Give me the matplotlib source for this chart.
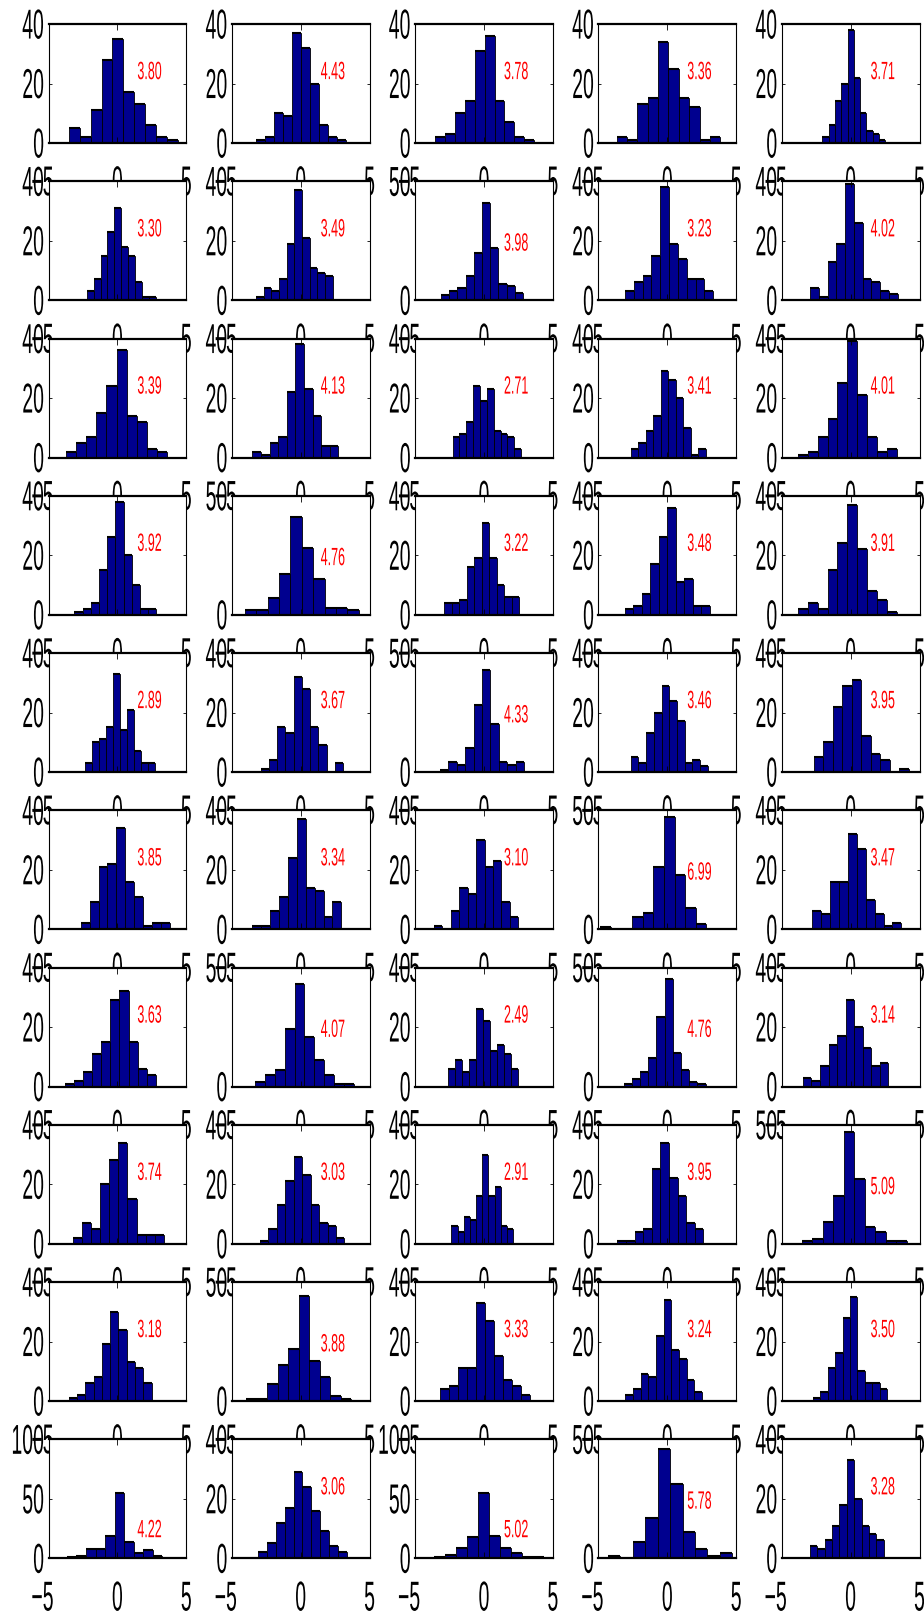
import numpy as np
import matplotlib
matplotlib.use('Agg')
import matplotlib.pyplot as plt
from matplotlib import patheffects
from matplotlib.transforms import Affine2D, ScaledTranslation

plt.rcParams['font.family'] = ['Liberation Sans', 'DejaVu Sans']

# 10 x 5 grid of histograms (10 bins each), read row by row
counts = [
    [5, 2, 11, 28, 35, 17, 13, 6, 2, 1], [1, 2, 10, 9, 37, 32, 20, 6, 2, 1],
    [2, 3, 10, 14, 31, 36, 14, 7, 2, 1], [2, 1, 13, 15, 34, 25, 15, 12, 1, 2],
    [2, 6, 14, 20, 38, 22, 10, 4, 3, 1],
    [3, 7, 15, 23, 31, 18, 15, 6, 1, 1], [1, 4, 3, 7, 19, 37, 21, 11, 9, 8],
    [2, 4, 5, 10, 20, 41, 22, 7, 6, 3], [3, 6, 8, 15, 38, 19, 14, 7, 7, 3],
    [4, 1, 13, 19, 39, 26, 7, 6, 3, 2],
    [2, 5, 7, 15, 24, 36, 14, 12, 3, 2], [2, 1, 5, 7, 22, 38, 23, 14, 4, 4],
    [7, 8, 12, 24, 19, 23, 9, 8, 7, 3], [3, 5, 9, 14, 29, 26, 20, 10, 1, 3],
    [1, 2, 7, 13, 25, 39, 21, 7, 2, 3],
    [1, 2, 4, 15, 26, 38, 20, 10, 2, 2], [2, 2, 7, 17, 41, 28, 15, 3, 3, 2],
    [4, 4, 5, 16, 19, 31, 19, 10, 6, 6], [2, 3, 7, 17, 26, 36, 11, 12, 3, 3],
    [2, 4, 2, 15, 24, 37, 22, 8, 5, 1],
    [3, 10, 11, 15, 33, 14, 21, 7, 3, 3], [1, 4, 15, 13, 32, 28, 15, 9, 0, 3],
    [1, 4, 3, 10, 28, 43, 20, 4, 3, 4], [5, 3, 13, 20, 29, 24, 17, 3, 4, 2],
    [5, 10, 22, 29, 31, 12, 6, 4, 0, 1],
    [2, 9, 21, 22, 34, 16, 11, 1, 2, 2], [1, 1, 6, 11, 24, 37, 14, 13, 4, 9],
    [1, 0, 6, 14, 12, 30, 21, 23, 9, 4], [1, 0, 0, 5, 7, 26, 47, 23, 9, 2],
    [6, 5, 16, 16, 32, 27, 10, 5, 1, 2],
    [1, 2, 5, 11, 15, 29, 32, 15, 6, 4], [2, 5, 7, 24, 43, 21, 11, 5, 1, 1],
    [6, 9, 5, 9, 26, 22, 12, 14, 11, 6], [1, 3, 6, 12, 29, 45, 14, 7, 2, 1],
    [3, 2, 7, 14, 17, 29, 20, 13, 7, 8],
    [2, 7, 5, 20, 28, 34, 15, 3, 3, 3], [1, 5, 13, 21, 29, 23, 13, 7, 6, 2],
    [6, 4, 9, 8, 16, 30, 16, 19, 6, 5], [1, 1, 4, 5, 25, 34, 22, 16, 7, 5],
    [1, 2, 9, 20, 47, 27, 7, 5, 1, 1],
    [1, 2, 6, 8, 19, 30, 24, 13, 11, 6], [1, 1, 7, 15, 22, 44, 17, 10, 2, 1],
    [4, 5, 11, 11, 33, 27, 15, 7, 5, 2], [2, 4, 9, 8, 22, 34, 17, 14, 7, 3],
    [1, 3, 11, 16, 28, 35, 10, 6, 6, 4],
    [1, 2, 8, 8, 19, 55, 14, 4, 7, 2], [2, 5, 12, 17, 29, 24, 16, 9, 4, 2],
    [1, 3, 9, 18, 55, 19, 9, 4, 1, 1], [1, 0, 7, 17, 46, 31, 11, 4, 1, 2],
    [4, 3, 6, 11, 18, 33, 20, 11, 8, 6],
]
# left / right edge of the binned range for each panel
lo = [-3.54, -3.25, -3.54, -3.67, -2.04,
      -2.24, -3.25, -3.12, -3.08, -2.94,
      -3.76, -3.50, -2.28, -2.66, -3.84,
      -3.12, -4.05, -2.87, -3.08, -3.84,
      -2.36, -2.91, -3.20, -2.66, -2.66,
      -2.66, -3.50, -3.63, -4.85, -2.78,
      -3.80, -3.29, -2.62, -3.16, -3.46,
      -3.25, -2.95, -2.36, -3.63, -3.54,
      -3.54, -3.97, -3.16, -3.04, -2.74,
      -3.66, -3.12, -3.60, -4.30, -2.95]
hi = [4.42, 3.29, 3.63, 3.84, 2.50,
      2.83, 2.32, 2.83, 3.33, 3.42,
      3.63, 2.74, 2.70, 2.78, 3.38,
      2.83, 4.22, 2.57, 3.08, 3.38,
      2.70, 3.08, 2.91, 2.95, 4.22,
      3.80, 2.95, 2.49, 2.83, 3.68,
      2.78, 3.84, 2.49, 2.78, 2.74,
      3.38, 3.17, 2.11, 2.62, 4.09,
      2.49, 3.67, 3.33, 2.53, 2.66,
      3.25, 3.38, 4.32, 4.72, 2.41]
kurt = ['3.80', '4.43', '3.78', '3.36', '3.71',
        '3.30', '3.49', '3.98', '3.23', '4.02',
        '3.39', '4.13', '2.71', '3.41', '4.01',
        '3.92', '4.76', '3.22', '3.48', '3.91',
        '2.89', '3.67', '4.33', '3.46', '3.95',
        '3.85', '3.34', '3.10', '6.99', '3.47',
        '3.63', '4.07', '2.49', '4.76', '3.14',
        '3.74', '3.03', '2.91', '3.95', '5.09',
        '3.18', '3.88', '3.33', '3.24', '3.50',
        '4.22', '3.06', '5.02', '5.78', '3.28']
xticks = [-5, 0, 5]

NAVY = (0, 0, 0.5625)


class TallText(patheffects.AbstractPathEffect):
    """Stretch glyphs vertically about the middle of a digit (text paths are 100 units/em)."""

    def __init__(self, sy):
        super().__init__()
        self.sy = sy

    def draw_path(self, renderer, gc, tpath, affine, rgbFace=None):
        stretch = Affine2D().translate(0, -36).scale(1, self.sy).translate(0, 36)
        renderer.draw_path(gc, tpath, stretch + affine, rgbFace)


def y_top(m):
    for t in (40, 50, 100):
        if m <= t:
            return t
    return m


W, H = 924, 1616
fig = plt.figure(figsize=(W / 100, H / 100), dpi=100)
tall = [TallText(2.15)]

for k in range(50):
    r, c = divmod(k, 5)
    left = (48.5 + 183.3 * c) / W
    top = 24 + 157.25 * r
    ax = fig.add_axes([left, 1 - (top + 119) / H, 137.8 / W, 119 / H])

    edges = np.linspace(lo[k], hi[k], 11)
    n = np.array(counts[k])
    ax.bar(edges[:-1], n, width=np.diff(edges), align='edge',
           color=NAVY, edgecolor='k', linewidth=0.6)
    nz = n > 0
    ax.hlines(n[nz], edges[:-1][nz], edges[1:][nz], colors='k', linewidth=1.5)

    yt = y_top(n.max())
    ax.set_xlim(-5, 5)
    ax.set_ylim(0, yt)
    ax.set_xticks(xticks)
    ax.set_xticklabels([str(v).replace('-', '\u2212') for v in xticks])
    yticks = [0, 20, 40] if yt == 40 else [0, yt // 2, yt] if yt == 100 else [0, yt]
    ax.set_yticks(yticks)
    ax.set_yticklabels([str(v) for v in yticks])

    ax.tick_params(axis='both', direction='in', top=True, right=True,
                   labelsize=14, width=0.6)
    ax.tick_params(axis='x', length=4, pad=22.5)
    ax.tick_params(axis='y', length=2.5, pad=3.2)
    for lab in ax.get_xticklabels() + ax.get_yticklabels():
        lab.set_path_effects(tall)
    # the "-5" sits a little left of its tick, so its minus runs through the "0" of the label beside it
    lab = ax.xaxis.get_major_ticks()[0].label1
    lab.set_transform(lab.get_transform() + ScaledTranslation(-0.06, 0, fig.dpi_scale_trans))

    for s in ('top', 'bottom'):
        ax.spines[s].set_linewidth(1.6)
    for s in ('left', 'right'):
        ax.spines[s].set_linewidth(0.8)

    ax.text(1.45, 24, kurt[k], color='red', fontsize=9, ha='left', va='center',
            path_effects=[TallText(2.0)])

fig.savefig('out.png', dpi=100)
